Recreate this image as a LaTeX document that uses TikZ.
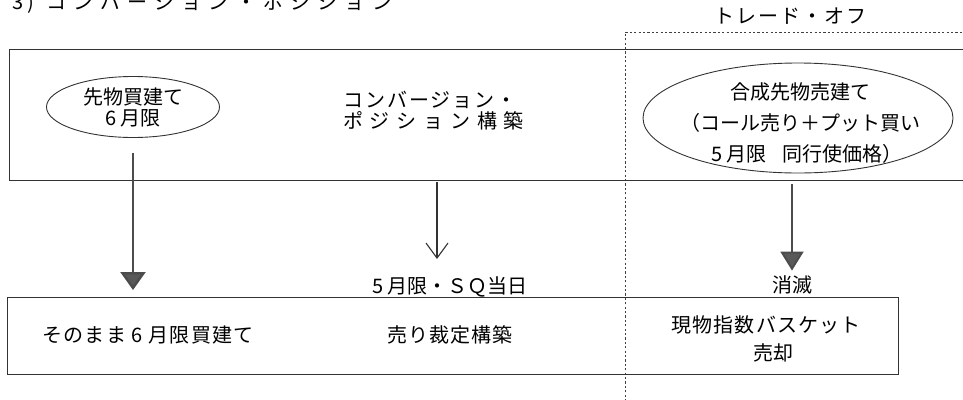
\documentclass[tikz,border=0pt]{standalone}
\usepackage{fontspec}
\setmainfont{Noto Sans CJK JP}
\usetikzlibrary{arrows.meta,shapes.geometric}
\begin{document}
\begin{tikzpicture}[x=1pt,y=-1pt,
  every node/.style={font=\fontsize{20}{22}\selectfont, inner sep=0pt, text=black},
  boxline/.style={draw=black!80, line width=0.9pt},
  oval/.style={ellipse, draw=black!80, line width=0.9pt, inner sep=0pt},
  tradeline/.style={draw=black!75, line width=0.8pt, dash pattern=on 2.2pt off 2.2pt},
  solidarrow/.style={draw=black!70, line width=2.4pt, -{Triangle[length=18pt,width=25pt,fill=black!65]}},
  openarrow/.style={draw=black!80, line width=1.1pt, -{Straight Barb[length=15pt,width=22pt]}}
]
\useasboundingbox (0,0) rectangle (963,399);
\clip (0,0) rectangle (963,399);

% title (cut at top edge, as in the reference)
\node[anchor=base west, font=\fontsize{20}{24}\selectfont] (title) at (12,9)
  {3\hspace{4pt})\hspace{12pt}{\addfontfeature{LetterSpace=36}コンバージョン・ポジション}};

% trade-off region
\node[anchor=center] (trade) at (790,16) {{\addfontfeature{LetterSpace=10}トレード・オフ}};
\draw[tradeline] (625,410) -- (625,32) -- (975,32);

% top box
\node[boxline, anchor=north west, minimum width=970pt, minimum height=131pt] (topbox) at (9,49) {};

% ellipses
\node[oval, minimum width=173pt, minimum height=61pt] (e1) at (133,107) {};
\node[align=center, font=\fontsize{20}{21}\selectfont] (e1t) at (e1.center) {先物買建て\\6 月限};

\node[align=left, anchor=north west] (conv) at (343,91)
  {{\addfontfeature{LetterSpace=10}コンバージョン・}\\[-1pt]{\addfontfeature{LetterSpace=34}ポジション構築}};

\node[oval, minimum width=310pt, minimum height=110pt] (e2) at (798,118) {};
\node[align=center, font=\fontsize{20}{31}\selectfont] (e2t) at (800,123)
  {合成先物売建て\\（コール売り＋プット買い\\\hspace*{14pt}5 月限\hspace{0.8em}同行使価格）};

% bottom box
\node[boxline, anchor=north west, minimum width=891pt, minimum height=77pt] (bot) at (7,297) {};

\node (b1) at (148,335) {{\addfontfeature{LetterSpace=6}そのまま 6 月限買建て}};
\node (b2) at (450,335) {{\addfontfeature{LetterSpace=5}売り裁定構築}};
\node[align=center, font=\fontsize{20}{28}\selectfont] (b3) at (766,339) {{\addfontfeature{LetterSpace=6}現物指数バスケット}\\\hspace*{14pt}売却};

% labels above bottom box
\node (sq) at (450,287) {5 月限・ＳＱ当日};
\node (xm) at (792,285) {消滅};

% arrows
\coordinate (a2s) at (437,180);
\coordinate (a2e) at (437,259);
\draw[solidarrow, shorten <=15pt, shorten >=7pt] (e1.south) -- (e1.south |- bot.north);
\draw[openarrow, shorten <=2pt] (a2s) -- (a2e);
\draw[solidarrow, line width=2pt, -{Triangle[length=19pt,width=23pt,fill=black!65]}, shorten <=3pt, shorten >=5pt] (topbox.south -| xm.north) -- (xm.north);
\end{tikzpicture}
\end{document}
